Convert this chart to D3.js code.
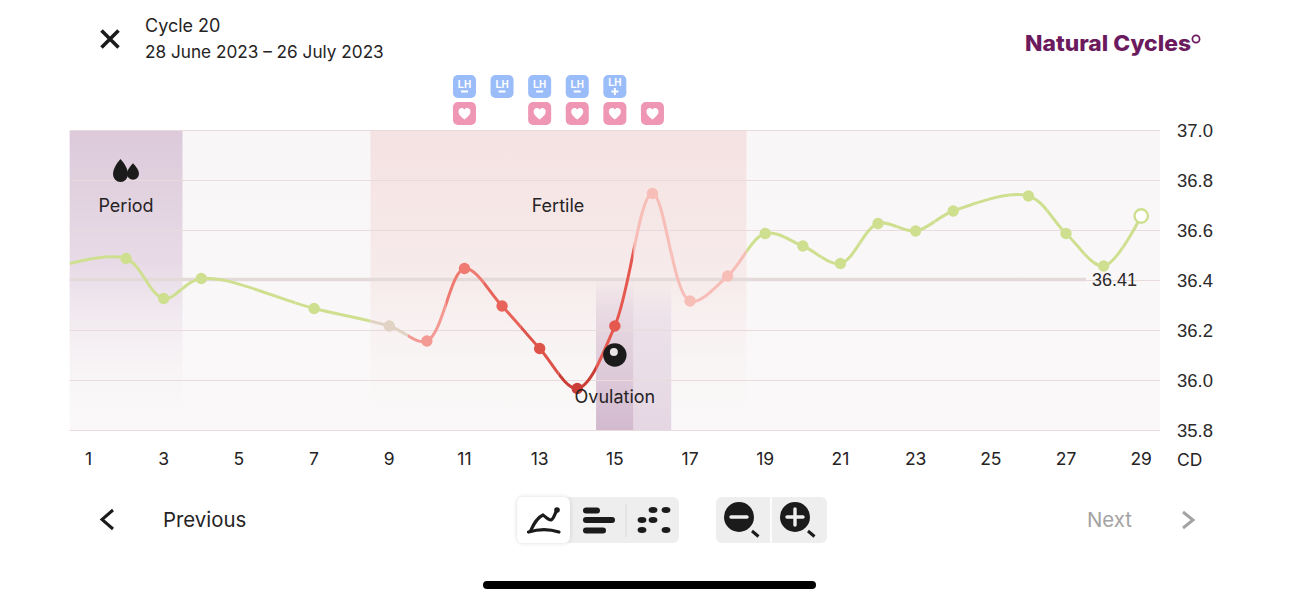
<!DOCTYPE html>
<html><head><meta charset="utf-8">
<script src="https://cdn.jsdelivr.net/npm/d3@7/dist/d3.min.js"></script>
<style>html,body{margin:0;background:#fff;overflow:hidden}svg{display:block}
text{font-family:Inter,"Noto Sans",sans-serif;fill:#262324}</style></head><body>
<svg id="c" width="1299" height="600"></svg>
<script>
const title = "Cycle 20";
const dateRange = "28 June 2023 – 26 July 2023";
const days  = [2,3,4,7,9,10,11,12,13,14,15,16,17,18,19,20,21,22,23,24,26,27,28,29];
const temps = [36.49,36.33,36.41,36.29,36.22,36.16,36.45,36.30,36.13,35.97,36.22,36.75,36.32,36.42,36.59,36.54,36.47,36.63,36.60,36.68,36.74,36.59,36.46,36.66];
const leadDay = 0.5, leadTemp = 36.47;
const yTicks = [35.8,36.0,36.2,36.4,36.6,36.8,37.0];
const xTicks = [1,3,5,7,9,11,13,15,17,19,21,23,25,27,29];
const avgTemp = 36.41;
const dayColorDays = [9,10,11,12,13,14,15,16,17,18];
const dayColors = ["#e0d3c3","#f29a93","#ee7a70","#e8645a","#dd5249","#cb3e37","#e4584f","#f7bdb7","#f7bdb7","#f7bdb7"];
const green = "#cfdf90";
const lhDays = [11,12,13,14,15];
const lhResults = ["–","–","–","–","+"];
const heartDays = [11,13,14,15,16];
const periodEnd = 3.5, fertileStart = 8.5, fertileEnd = 18.5, ovulationDay = 15;

const svg = d3.select("#c");
const x = d3.scaleLinear().domain([0.5,29.5]).range([69.7,1160]);
const y = d3.scaleLinear().domain([35.8,37.0]).range([431,131]);
const defs = svg.append("defs");
function grad(id,stops){
  const g=defs.append("linearGradient").attr("id",id).attr("x1",0).attr("x2",0).attr("y1",0).attr("y2",1);
  stops.forEach(s=>g.append("stop").attr("offset",s[0]).attr("stop-color",s[1]).attr("stop-opacity",s[2]));
}
grad("bg",[[0,"#f8f6f7",1],[1,"#faf8f8",1]]);
grad("period",[[0,"#dccada",1],[0.45,"#e8dbe7",1],[0.97,"#f8f5f6",0]]);
grad("fertile",[[0,"#f5e2e2",1],[0.5,"#f7ebeb",1],[0.97,"#f9f5f5",0]]);
grad("ov1",[[0,"#d2b9cf",0],[0.35,"#dfcdda",.8],[1,"#d2b9cf",1]]);
grad("ov2",[[0,"#e4d6e2",0],[0.3,"#e9dde7",.8],[1,"#e4d6e2",1]]);

const top_=y(37), bot=y(35.8);
svg.append("rect").attr("x",x(0.5)).attr("y",top_).attr("width",x(29.5)-x(0.5)).attr("height",bot-top_).attr("fill","url(#bg)");
svg.append("rect").attr("x",x(0.5)).attr("y",top_).attr("width",x(periodEnd)-x(0.5)).attr("height",bot-top_).attr("fill","url(#period)");
svg.append("rect").attr("x",x(fertileStart)).attr("y",top_).attr("width",x(fertileEnd)-x(fertileStart)).attr("height",bot-top_).attr("fill","url(#fertile)");
const ovTop=y(36.41);
svg.append("rect").attr("x",x(ovulationDay-.5)).attr("y",ovTop).attr("width",x(1.5)-x(.5)).attr("height",bot-ovTop).attr("fill","url(#ov1)");
svg.append("rect").attr("x",x(ovulationDay+.5)).attr("y",ovTop).attr("width",x(1.5)-x(.5)).attr("height",bot-ovTop).attr("fill","url(#ov2)");

// grid
svg.append("g").selectAll("line").data(yTicks).join("line")
  .attr("x1",x(0.5)).attr("x2",x(29.5)).attr("y1",d=>y(d)-0.5).attr("y2",d=>y(d)-0.5)
  .attr("stroke","#e9dbdb").attr("stroke-width",1.1);
// average line
svg.append("line").attr("x1",x(0.5)).attr("x2",1086).attr("y1",y(avgTemp-0.004)).attr("y2",y(avgTemp-0.004))
  .attr("stroke","#e4dad9").attr("stroke-width",3.6);

// axes
const yAxis = d3.axisRight(y).offset(0).tickValues(yTicks).tickSize(0).tickPadding(0).tickFormat(d3.format(".1f"));
const gy = svg.append("g").attr("transform",`translate(${1177},0.5)`).call(yAxis);
gy.select(".domain").remove();
gy.selectAll("text").attr("font-size",18.5).style("font-family",'"Liberation Sans",sans-serif').style("fill","#2c2a2b");
const xAxis = d3.axisBottom(x).offset(0).tickValues(xTicks).tickSize(0).tickPadding(0).tickFormat(d3.format("d"));
const gx = svg.append("g").attr("transform",`translate(0,${451})`).call(xAxis);
gx.select(".domain").remove();
gx.selectAll("text").attr("font-size",17.5).attr("dy","0.8em");
svg.append("text").attr("x",1177).attr("y",466).attr("font-size",17.5).text("CD");

// line, segmented by day through clip bands
const pts=[[leadDay,leadTemp],...days.map((d,i)=>[d,temps[i]])];
const lineGen=d3.line().x(d=>x(d[0])).y(d=>y(d[1])).curve(d3.curveCatmullRom.alpha(0.5));
const lp=lineGen(pts);
const colorOf=d=>{const i=dayColorDays.indexOf(d);return i<0?green:dayColors[i];};
d3.range(1,30).forEach(d=>{
  const id="clip"+d;
  defs.append("clipPath").attr("id",id).append("rect")
    .attr("x",x(d-.5)).attr("y",0).attr("width",x(d+.5)-x(d-.5)).attr("height",600);
  svg.append("path").attr("d",lp).attr("fill","none").attr("stroke",colorOf(d))
    .attr("stroke-width",3).attr("clip-path",`url(#${id})`);
});
svg.append("g").selectAll("circle").data(days.map((d,i)=>({d,t:temps[i]}))).join("circle")
  .attr("cx",d=>x(d.d)).attr("cy",d=>y(d.t))
  .attr("r",d=>d.d===29?6.7:5.7)
  .attr("fill",d=>d.d===29?"#fff":colorOf(d.d))
  .attr("stroke",d=>d.d===29?green:"none").attr("stroke-width",2.4);

svg.append("text").attr("x",1092).attr("y",285.5).attr("font-size",18).style("font-family",'"Liberation Sans",sans-serif').style("fill","#2c2a2b").text(d3.format(".2f")(avgTemp));

// band labels
function label(t,cx,by){svg.append("text").attr("x",cx).attr("y",by).attr("text-anchor","middle").attr("font-size",18).text(t);}
label("Period",126,211.5); label("Fertile",558,211.5); label("Ovulation",x(ovulationDay),403);
// drops
function dropPath(cx,cy,w,h){return `M${cx},${cy-h/2}C${cx+w*.3},${cy-h*.28} ${cx+w/2},${cy-h*.05} ${cx+w/2},${cy+h/2-w/2}A${w/2},${w/2} 0 0 1 ${cx-w/2},${cy+h/2-w/2}C${cx-w/2},${cy-h*.05} ${cx-w*.3},${cy-h*.28} ${cx},${cy-h/2}Z`;}
svg.append("path").attr("d",dropPath(120.5,170.5,15,23)).attr("fill","#1b1b1b");
svg.append("path").attr("d",dropPath(133,171.5,12,16.5)).attr("fill","#1b1b1b");
// ovulation icon
svg.append("circle").attr("cx",x(ovulationDay)).attr("cy",355).attr("r",11.7).attr("fill","#1b1b1b");
svg.append("circle").attr("cx",x(ovulationDay)-1).attr("cy",352).attr("r",4).attr("fill","#e9e4e6");

// badges
const bw=23;
const lh=svg.append("g").selectAll("g").data(lhDays.map((d,i)=>({d,r:lhResults[i]}))).join("g")
  .attr("transform",d=>`translate(${x(d.d)-bw/2},75)`);
lh.append("rect").attr("width",bw).attr("height",bw).attr("rx",5).attr("fill","#9abcf9");
lh.append("text").attr("x",bw/2).attr("y",d=>d.r==="+"?10.5:12.5).attr("text-anchor","middle").attr("font-size",10).attr("font-weight",700)
  .style("font-family","'Liberation Sans',sans-serif").style("fill","#fff").text("LH");
lh.append("rect").attr("x",bw/2-3.5).attr("y",15.5).attr("width",7).attr("height",2).attr("fill","#fff");
lh.filter(d=>d.r==="+").append("rect").attr("x",bw/2-1).attr("y",13).attr("width",2).attr("height",7).attr("fill","#fff");
const heart=svg.append("g").selectAll("g").data(heartDays).join("g")
  .attr("transform",d=>`translate(${x(d)-bw/2},102)`);
heart.append("rect").attr("width",bw).attr("height",bw).attr("rx",5).attr("fill","#ee96b4");
heart.append("path").attr("d","M11.5,17.5C7,14 5.5,12 5.5,9.5C5.5,7.4 7,6 8.8,6C10,6 11,6.6 11.5,7.6C12,6.6 13,6 14.2,6C16,6 17.5,7.4 17.5,9.5C17.5,12 16,14 11.5,17.5Z").attr("fill","#fff");

// header
svg.append("path").attr("d","M101.5,30.5L118.5,47.5M118.5,30.5L101.5,47.5").attr("stroke","#1b1b1b").attr("stroke-width",3.6).attr("fill","none");
svg.append("text").attr("x",145).attr("y",32).attr("font-size",18).text(title);
svg.append("text").attr("x",145).attr("y",58).attr("font-size",17.2).text(dateRange);
svg.append("text").attr("x",1025).attr("y",51).attr("font-size",21.5).attr("font-weight",800).attr("textLength",166).attr("lengthAdjust","spacingAndGlyphs").style("fill","#6b1a5e").text("Natural Cycles");
svg.append("circle").attr("cx",1196).attr("cy",39).attr("r",3.6).attr("fill","none").attr("stroke","#6b1a5e").attr("stroke-width",1.7);

// footer nav
svg.append("path").attr("d","M113,510L102,519.5L113,529").attr("fill","none").attr("stroke","#1b1b1b").attr("stroke-width",3);
svg.append("text").attr("x",163).attr("y",527).attr("font-size",20.4).text("Previous");
svg.append("text").attr("x",1087).attr("y",527).attr("font-size",20.4).style("fill","#a3a3a3").text("Next");
svg.append("path").attr("d","M1183,512L1193,520L1183,528").attr("fill","none").attr("stroke","#a3a3a3").attr("stroke-width",3);

// controls
const dark="#1b1b1b";
svg.append("rect").attr("x",517).attr("y",497).attr("width",162).attr("height",46).attr("rx",6).attr("fill","#eeeeee");
defs.append("filter").attr("id","sh").attr("x","-20%").attr("y","-20%").attr("width","140%").attr("height","140%")
  .append("feDropShadow").attr("dx",0).attr("dy",0).attr("stdDeviation",2).attr("flood-color","#000").attr("flood-opacity",.15);
svg.append("rect").attr("x",517).attr("y",497).attr("width",53).attr("height",46).attr("rx",6).attr("fill","#fff").attr("filter","url(#sh)");
svg.append("path").attr("d","M530,532C533,526 536,518 543,515C546,517 548,520 551,520C554,519 555,513 557,510").attr("fill","none").attr("stroke",dark).attr("stroke-width",3.2);
svg.append("circle").attr("cx",557).attr("cy",510).attr("r",2.8).attr("fill",dark);
svg.append("path").attr("d","M528.5,532C538,529 550,529 559,532").attr("fill","none").attr("stroke",dark).attr("stroke-width",3.2).attr("stroke-linecap","round");
[[583,507.5,17],[583,517,32],[583,527.5,23]].forEach(b=>svg.append("rect").attr("x",b[0]).attr("y",b[1]).attr("width",b[2]).attr("height",6).attr("rx",3).attr("fill",dark));
svg.append("line").attr("x1",626).attr("x2",626).attr("y1",504).attr("y2",537).attr("stroke","#d8d8d8").attr("stroke-width",1);
[[653,510],[666,510],[642,520],[653,520],[642,530],[666,530]].forEach(p=>svg.append("ellipse").attr("cx",p[0]).attr("cy",p[1]).attr("rx",4.4).attr("ry",3).attr("fill",dark));
svg.append("rect").attr("x",716).attr("y",497).attr("width",111).attr("height",46).attr("rx",6).attr("fill","#eeeeee");
svg.append("line").attr("x1",771).attr("x2",771).attr("y1",497).attr("y2",543).attr("stroke","#fff").attr("stroke-width",1.6);
[[739,false],[795,true]].forEach(([cx,plus])=>{
  svg.append("circle").attr("cx",cx).attr("cy",517).attr("r",15).attr("fill",dark);
  svg.append("line").attr("x1",cx-8).attr("x2",cx+8).attr("y1",517).attr("y2",517).attr("stroke","#eee").attr("stroke-width",3.4).attr("stroke-linecap","round");
  if(plus) svg.append("line").attr("x1",cx).attr("x2",cx).attr("y1",509).attr("y2",525).attr("stroke","#eee").attr("stroke-width",3.4).attr("stroke-linecap","round");
  svg.append("line").attr("x1",cx+13).attr("x2",cx+19.5).attr("y1",531).attr("y2",536.5).attr("stroke",dark).attr("stroke-width",3);
});
// home bar
svg.append("rect").attr("x",483).attr("y",581).attr("width",333).attr("height",8).attr("rx",4).attr("fill","#000");
</script></body></html>
